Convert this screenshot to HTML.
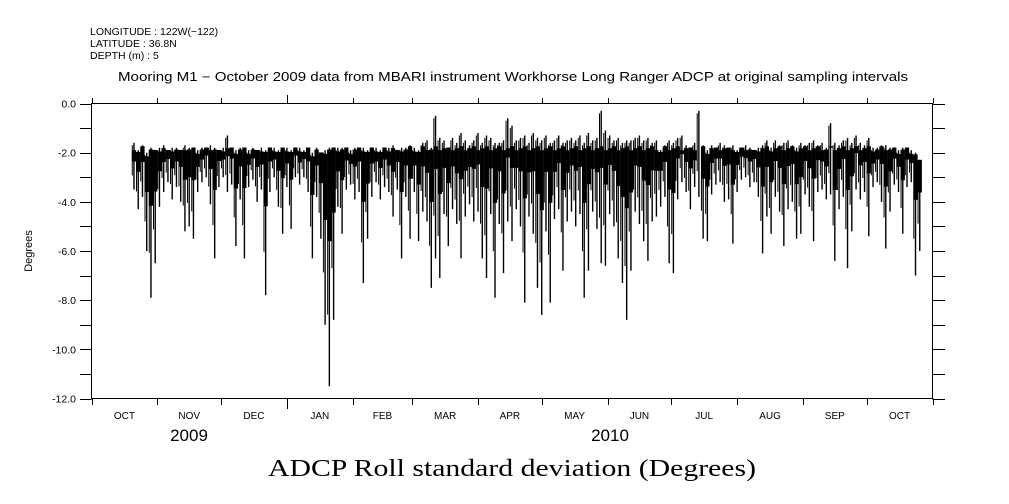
<!DOCTYPE html>
<html><head><meta charset="utf-8"><style>
html,body{margin:0;padding:0;background:#fff;}
svg{display:block;}
text{font-family:"Liberation Sans",sans-serif;fill:#000;}
</style></head><body>
<svg id="chart" width="1009" height="504" viewBox="0 0 1009 504" xmlns="http://www.w3.org/2000/svg">
<g font-size="10.5">
<text x="90" y="35">LONGITUDE : 122W(−122)</text>
<text x="90" y="47">LATITUDE : 36.8N</text>
<text x="90" y="59">DEPTH (m) : 5</text>
</g>
<text x="118" y="81" font-size="12.5" textLength="790" lengthAdjust="spacingAndGlyphs">Mooring M1 − October 2009 data from MBARI instrument Workhorse Long Ranger ADCP at original sampling intervals</text>
<text transform="translate(32,251) rotate(-90)" font-size="11" text-anchor="middle">Degrees</text>
<g id="yaxis"></g>
<g id="xaxis"></g>
<g id="series"></g>
<rect x="91.5" y="103.5" width="841" height="295" fill="none" stroke="#000" stroke-width="1"/>
<text x="189" y="441" font-size="17" text-anchor="middle">2009</text>
<text x="610" y="441" font-size="17" text-anchor="middle">2010</text>
<text x="268" y="476" font-size="24" textLength="488" lengthAdjust="spacingAndGlyphs" style="font-family:'Liberation Serif',serif">ADCP Roll standard deviation (Degrees)</text>
</svg>
<script>
const monthLabels=["OCT","NOV","DEC","JAN","FEB","MAR","APR","MAY","JUN","JUL","AUG","SEP","OCT"];
const monthDays=[31,30,31,31,28,31,30,31,30,31,31,30,31];
const yTicks=[0,-1,-2,-3,-4,-5,-6,-7,-8,-9,-10,-11,-12];
const yLabels=["0.0","-2.0","-4.0","-6.0","-8.0","-10.0","-12.0"];
const startDay=19;
const binDays=2;
const lo=[-3.5,-4.3,-3.8,-6.0,-7.9,-6.5,-4.2,-3.6,-3.2,-3.9,
-3.4,-4.0,-5.2,-5.0,-5.5,-3.6,-3.2,-3.0,-4.1,-6.3,
-3.4,-3.0,-3.6,-3.3,-5.8,-3.9,-6.3,-3.4,-3.1,-4.0,
-3.5,-7.8,-3.6,-3.0,-4.2,-5.3,-3.4,-5.1,-3.0,-3.3,
-3.0,-3.6,-6.3,-3.8,-5.5,-9.0,-11.5,-8.8,-4.2,-5.3,
-3.5,-3.3,-3.9,-3.6,-7.3,-5.5,-3.8,-3.2,-3.9,-3.4,
-3.6,-4.6,-3.5,-6.3,-3.8,-5.5,-3.6,-5.6,-4.4,-4.8,
-7.5,-6.3,-7.1,-4.5,-5.8,-4.3,-4.9,-6.3,-4.6,-4.1,
-4.8,-4.4,-6.3,-7.1,-4.5,-7.9,-4.9,-6.9,-4.8,-5.6,
-4.3,-5.0,-8.1,-4.6,-5.3,-7.5,-8.6,-5.2,-8.1,-4.7,
-4.3,-6.8,-4.8,-4.4,-5.0,-4.5,-7.9,-6.8,-4.4,-5.1,
-6.5,-6.6,-4.5,-5.0,-6.3,-7.3,-8.8,-6.8,-4.4,-4.9,
-5.6,-6.4,-4.8,-4.6,-4.2,-3.8,-6.5,-6.9,-3.9,-3.2,
-3.6,-4.3,-3.4,-3.8,-5.5,-5.6,-3.7,-3.3,-3.2,-4.0,
-3.9,-5.7,-3.6,-3.1,-3.0,-3.4,-3.2,-3.8,-6.1,-4.6,
-5.3,-3.8,-4.4,-5.8,-4.3,-4.0,-5.5,-5.3,-3.7,-4.2,
-5.6,-3.6,-3.5,-3.9,-3.7,-6.4,-4.3,-3.8,-6.7,-5.2,
-3.5,-3.9,-3.6,-5.4,-3.4,-3.2,-4.0,-5.9,-4.4,-3.3,
-3.6,-5.3,-3.4,-3.2,-7.0,-6.0];
const hi=[-1.6,-1.9,-1.7,-2.0,-1.8,-1.9,-1.8,-1.7,-1.9,-1.8,
-1.8,-1.9,-1.7,-1.8,-1.8,-1.9,-1.8,-1.8,-1.7,-1.8,
-1.9,-1.8,-1.3,-1.8,-1.9,-1.8,-1.8,-1.9,-1.8,-1.9,
-1.8,-1.9,-1.8,-1.8,-1.9,-1.8,-1.8,-1.9,-1.8,-1.8,
-1.9,-1.8,-2.0,-1.8,-2.0,-1.9,-1.8,-1.8,-1.8,-1.8,
-1.8,-1.9,-1.8,-1.8,-1.8,-1.9,-1.8,-1.8,-1.9,-1.8,
-1.8,-1.7,-1.9,-1.8,-1.8,-1.7,-1.8,-1.9,-1.6,-1.5,
-1.8,-0.5,-1.4,-1.5,-1.8,-1.4,-1.6,-1.2,-1.5,-1.7,
-1.5,-1.2,-1.6,-1.3,-1.4,-1.6,-1.6,-1.5,-0.6,-0.9,
-1.5,-1.4,-1.3,-1.6,-1.2,-1.4,-1.5,-1.3,-1.6,-1.5,
-1.3,-1.6,-1.5,-1.4,-1.5,-1.3,-1.6,-1.2,-1.5,-1.4,
-0.3,-1.1,-1.3,-1.5,-1.4,-1.6,-1.5,-1.5,-1.4,-1.3,
-1.5,-1.4,-1.6,-1.5,-1.9,-1.7,-1.5,-1.6,-1.4,-1.3,
-1.7,-1.8,-1.6,-0.3,-1.7,-1.9,-1.7,-1.8,-1.6,-1.7,
-1.8,-1.7,-1.9,-1.8,-1.7,-1.8,-1.9,-1.8,-1.7,-1.5,
-1.8,-1.5,-1.7,-1.6,-1.5,-1.7,-1.8,-1.6,-1.7,-1.6,
-1.5,-1.7,-1.6,-1.8,-0.8,-1.6,-1.7,-1.5,-1.4,-1.6,
-1.3,-1.6,-1.7,-1.4,-1.8,-1.8,-1.7,-1.7,-1.8,-1.8,
-1.9,-1.8,-1.8,-1.9,-2.0,-2.3];

const NS="http://www.w3.org/2000/svg";
const X0=91.5,X1=932.5,Y0=103.5,Y1=398.5;
const totalDays=monthDays.reduce((a,b)=>a+b,0);
function xScale(d){return X0+(X1-X0)*d/totalDays;}
function yScale(v){return Y0+(Y1-Y0)*(0-v)/12;}
function mk(tag,attrs,parent){const e=document.createElementNS(NS,tag);for(const k in attrs)e.setAttribute(k,attrs[k]);parent.appendChild(e);return e;}

const ya=document.getElementById('yaxis');
yTicks.forEach(v=>{
  const y=Math.round(yScale(v))+0.5;
  const t1=mk('line',{x1:80,x2:X0,y1:y,y2:y,stroke:'#000'},ya);
  
  
  const t2=mk('line',{x1:X1,x2:945,y1:y,y2:y,stroke:'#000'},ya);
  
  
});
yLabels.forEach((s,i)=>{
  const v=-2*i;
  const t=mk('text',{x:76,y:yScale(v)+4,'font-size':10.5,'text-anchor':'end'},ya);
  t.textContent=s;
  
  
});

const xa=document.getElementById('xaxis');
let d=0;
for(let i=0;i<=monthDays.length;i++){
  const x=Math.round(xScale(d))+0.5;
  const big=(i===3);
  const a=mk('line',{x1:x,x2:x,y1:big?95:98,y2:Y0,stroke:'#000'},xa);
  
  
  const b=mk('line',{x1:x,x2:x,y1:Y1,y2:big?409:405,stroke:'#000'},xa);
  
  
  if(i<monthLabels.length){
    const t=mk('text',{x:xScale(d+monthDays[i]/2),y:419,'font-size':10,'text-anchor':'middle'},xa);
    t.textContent=monthLabels[i];
    
    
    d+=monthDays[i];
  }
}

const sg=document.getElementById('series');
for(let k=0;k<lo.length;k++){
  const dd=startDay+k*binDays;
  const xa0=xScale(dd), xa1=xScale(dd+binDays);
  const top=Math.min(hi[k]-0.15,-1.9);
  const core=Math.max(lo[k],hi[k]+(lo[k]-hi[k])*0.4);
  const r=mk('rect',{x:xa0.toFixed(2),y:yScale(top+ (k%3)*0.08).toFixed(2),width:(xa1-xa0).toFixed(2),height:Math.max(0,yScale(core)-yScale(top)).toFixed(2),fill:'#000'},sg);
  
  
  const xm=xScale(dd+binDays*0.5);
  const ln=mk('line',{x1:xm.toFixed(2),x2:xm.toFixed(2),y1:yScale(hi[k]).toFixed(2),y2:yScale(lo[k]).toFixed(2),stroke:'#000','stroke-width':1.4},sg);
  
  
  const xq=xScale(dd+binDays*0.1);
  const mid=(lo[k]+core)/2;
  const ln2=mk('line',{x1:xq.toFixed(2),x2:xq.toFixed(2),y1:yScale(hi[k]-0.1).toFixed(2),y2:yScale(mid).toFixed(2),stroke:'#000','stroke-width':1},sg);
  
  
}
</script>
</body></html>
